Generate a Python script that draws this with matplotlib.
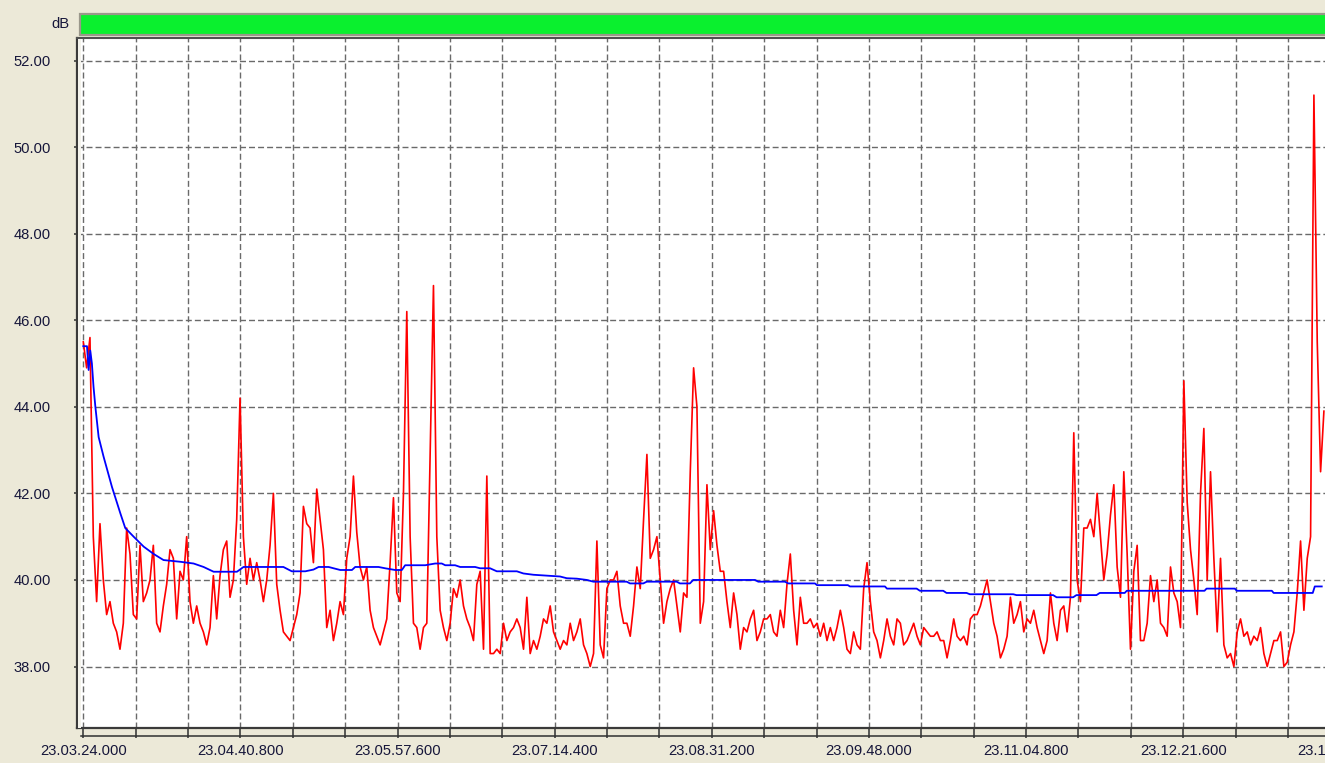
import matplotlib
matplotlib.use("Agg")
import numpy as np
from matplotlib import pyplot as plt
from matplotlib.patches import Rectangle
from matplotlib.lines import Line2D
from matplotlib.ticker import MultipleLocator, FuncFormatter

# start of the record, 23.03.24.000
start_time = 23 * 3600 + 3 * 60 + 24.0
sample_step = 1.63   # seconds between level samples

# instantaneous level, dB
level_db = [
    45.5, 44.9, 45.6, 41.0, 39.5, 41.3, 40.0, 39.2, 39.5, 39.0,
    38.8, 38.4, 39.0, 41.2, 40.6, 39.2, 39.1, 40.8, 39.5, 39.7,
    40.0, 40.8, 39.0, 38.8, 39.4, 39.9, 40.7, 40.5, 39.1, 40.2,
    40.0, 41.0, 39.5, 39.0, 39.4, 39.0, 38.8, 38.5, 38.9, 40.1,
    39.1, 40.1, 40.7, 40.9, 39.6, 40.0, 41.4, 44.2, 41.0, 39.9,
    40.5, 40.0, 40.4, 40.0, 39.5, 40.0, 40.8, 42.0, 39.9, 39.3,
    38.8, 38.7,
    38.6, 38.9, 39.2, 39.7, 41.7, 41.3, 41.2, 40.4, 42.1, 41.4,
    40.7, 38.9, 39.3, 38.6, 39.0, 39.5, 39.2, 40.5, 41.0, 42.4,
    41.1, 40.3, 40.0, 40.3, 39.3, 38.9, 38.7, 38.5, 38.8, 39.1,
    40.4, 41.9, 39.7, 39.5, 42.0, 46.2, 41.0, 39.0, 38.9, 38.4,
    38.9, 39.0, 42.9, 46.8, 41.0, 39.3, 38.9, 38.6, 39.0, 39.8,
    39.6, 40.0, 39.4, 39.1, 38.9, 38.6, 39.9, 40.2, 38.4, 42.4,
    38.3,
    38.3, 38.4, 38.3, 39.0, 38.6, 38.8, 38.9, 39.1, 38.9, 38.4,
    39.6, 38.3, 38.6, 38.4, 38.7, 39.1, 39.0, 39.4, 38.8, 38.6,
    38.4, 38.6, 38.5, 39.0, 38.6, 38.8, 39.1, 38.5, 38.3, 38.0,
    38.3, 40.9, 38.5, 38.2, 39.8, 40.0, 40.0, 40.2, 39.4, 39.0,
    39.0, 38.7, 39.4, 40.3, 39.8, 41.4, 42.9, 40.5, 40.7, 41.0,
    40.0, 39.0, 39.5, 39.8, 40.0, 39.4, 38.8, 39.7, 39.6, 42.5,
    44.9, 44.0,
    39.0, 39.5, 42.2, 40.7, 41.6, 40.8, 40.2, 40.2, 39.5, 38.9,
    39.7, 39.2, 38.4, 38.9, 38.8, 39.1, 39.3, 38.6, 38.8, 39.1,
    39.1, 39.2, 38.8, 38.7, 39.3, 38.9, 39.9, 40.6, 39.3, 38.5,
    39.6, 39.0, 39.0, 39.1, 38.9, 39.0, 38.7, 39.0, 38.6, 38.9,
    38.6, 38.9, 39.3, 38.9, 38.4, 38.3, 38.8, 38.5, 38.4, 39.8,
    40.4, 39.5, 38.8, 38.6, 38.2, 38.6, 39.1, 38.7, 38.5, 39.1,
    39.0, 38.5,
    38.6, 38.8, 39.0, 38.7, 38.5, 38.9, 38.8, 38.7, 38.7, 38.8,
    38.6, 38.6, 38.2, 38.6, 39.1, 38.7, 38.6, 38.7, 38.5, 39.1,
    39.2, 39.2, 39.4, 39.7, 40.0, 39.5, 39.0, 38.7, 38.2, 38.4,
    38.7, 39.6, 39.0, 39.2, 39.5, 38.8, 39.1, 39.0, 39.3, 38.9,
    38.6, 38.3, 38.6, 39.7, 39.0, 38.6, 39.3, 39.4, 38.8, 39.6,
    43.4, 40.0, 39.5, 41.2, 41.2, 41.4, 41.0, 42.0, 41.0, 40.0,
    40.6,
    41.5, 42.2, 40.3, 39.6, 42.5, 40.6, 38.4, 40.2, 40.8, 38.6,
    38.6, 39.0, 40.1, 39.5, 40.0, 39.0, 38.9, 38.7, 40.3, 39.7,
    39.5, 38.9, 44.6, 41.8, 40.7, 40.0, 39.2, 42.0, 43.5, 40.0,
    42.5, 40.5, 38.8, 40.5, 38.5, 38.2, 38.3, 38.0, 38.8, 39.1,
    38.7, 38.8, 38.5, 38.7, 38.6, 38.9, 38.3, 38.0, 38.3, 38.6,
    38.6, 38.8, 38.0, 38.1, 38.5, 38.8, 39.7, 40.9, 39.3, 40.5,
    41.0, 51.2, 45.5, 42.5, 43.9,
]

# running average level (time in seconds from start, dB)
avg_t = [0.0, 1.8, 2.6, 3.4, 4.2, 5.0, 5.9, 7.5, 9.9, 14.0, 18.1, 20.5,
         24.6, 29.5, 34.4, 39.2, 47.4, 53.9, 58.8, 63.7, 75.1, 78.3, 97.8,
         101.9, 108.5, 112.5, 115.0, 119.9, 122.3, 125.6, 131.3, 132.9,
         144.3, 147.5, 152.4, 155.7, 157.3, 167.1, 172.0, 175.2, 176.9,
         181.7, 184.2, 191.5, 193.9, 198.8, 202.1, 211.9, 215.1, 220.0,
         226.5, 233.0, 236.3, 241.2, 246.1, 249.3, 265.6, 267.2, 273.7,
         275.4, 290.0, 291.6, 296.5, 298.1, 328.3, 329.9, 342.9, 344.6,
         357.6, 358.6, 373.7, 374.7, 391.8, 392.8, 407.3, 408.9, 420.3,
         421.9, 431.7, 433.3, 454.5, 456.1, 474.0, 475.7, 483.8, 485.4,
         495.2, 496.8, 509.0, 510.0, 548.0, 549.0, 562.8, 563.8, 580.9,
         581.8, 600.9, 601.9, 605.3]
avg_db = [45.4, 45.4, 44.85, 45.3, 45.0, 44.46, 44.0, 43.3, 42.85, 42.15,
          41.54, 41.2, 41.0, 40.77, 40.6, 40.46, 40.42, 40.38, 40.3, 40.19,
          40.19, 40.3, 40.3,
          40.2, 40.2, 40.24, 40.3, 40.3, 40.27, 40.23, 40.23, 40.3, 40.3,
          40.27, 40.23, 40.23, 40.34, 40.34, 40.38, 40.38, 40.34, 40.34,
          40.3, 40.3, 40.27, 40.27, 40.2, 40.2, 40.15, 40.12, 40.1, 40.08,
          40.04, 40.03, 40.0, 39.96, 39.96, 39.92, 39.92, 39.96, 39.96,
          39.92, 39.92, 40.0, 40.0, 39.96, 39.96, 39.92, 39.92, 39.88,
          39.88, 39.85, 39.85, 39.8, 39.8, 39.75, 39.75, 39.7, 39.7, 39.67,
          39.67, 39.65, 39.65, 39.6, 39.6, 39.65, 39.65, 39.7, 39.7, 39.75,
          39.75, 39.8, 39.8, 39.75, 39.75, 39.7, 39.7, 39.85, 39.85]

y_ticks = [38, 40, 42, 44, 46, 48, 50, 52]
grid_step = 25.6      # seconds between vertical grid lines
label_step = 76.8     # seconds between time labels

W, H = 1325, 763
bg = "#ECE9D8"
txt_col = "#16163a"
font = "Liberation Sans"


def px(x, y):
    # pixel position -> figure fraction (y from top)
    return x / W, 1 - y / H


def time_label(t, pos):
    if abs((t / label_step) - round(t / label_step)) > 1e-6:
        return ""
    ms_total = int(round((start_time + t) * 1000))
    hh = ms_total // 3600000
    mm = (ms_total // 60000) % 60
    ss = (ms_total // 1000) % 60
    ms = ms_total % 1000
    return f"{hh:02d}.{mm:02d}.{ss:02d}.{ms:03d}"


fig = plt.figure(figsize=(W / 100, H / 100), dpi=100, facecolor=bg)

ax_left, ax_right = 77, 1420
ax_top, ax_bot = 38, 728
ax = fig.add_axes([ax_left / W, 1 - ax_bot / H,
                   (ax_right - ax_left) / W, (ax_bot - ax_top) / H])
ax.set_facecolor("white")

t = np.arange(len(level_db)) * sample_step
ax.plot(t, level_db, color="#ff0000", lw=1.2, zorder=3)
ax.plot(avg_t, avg_db, color="#0000ff", lw=1.3, zorder=4)

px_per_s = 2.046
ax.set_xlim((ax_left - 83.3) / px_per_s, (ax_right - 83.3) / px_per_s)
ax.set_ylim(36.58, 52.52)

ax.xaxis.set_major_locator(MultipleLocator(grid_step))
ax.xaxis.set_major_formatter(FuncFormatter(time_label))
ax.set_yticks(y_ticks)
ax.set_yticklabels([f"{v:.2f}" for v in y_ticks])

ax.grid(True, color="#6a6a6a", lw=1.0, linestyle=(0, (4.3, 2.2)), zorder=1)
ax.set_axisbelow(True)

for side in ["top", "bottom", "left"]:
    ax.spines[side].set_color("#3a3a3a")
ax.spines["left"].set_linewidth(1.6)
ax.spines["bottom"].set_linewidth(1.6)
ax.spines["top"].set_linewidth(1.5)
ax.spines["top"].set_color("#505050")
ax.spines["right"].set_visible(False)

ax.tick_params(axis="x", direction="out", length=7.2, width=1.1,
               color="#303030", pad=4.5, labelsize=10.6, labelcolor=txt_col)
ax.tick_params(axis="y", direction="inout", length=5, width=1.1,
               color="#303030", pad=16.5, labelsize=10.6, labelcolor=txt_col)
for lab in ax.get_xticklabels() + ax.get_yticklabels():
    lab.set_fontfamily(font)

# thin light strip between the axis line and the white plot area
sx, sy = px(78, 728)
fig.add_artist(Rectangle((sx, sy), 3 / W, 689 / H, facecolor="#f4f3ec",
                         edgecolor="none"))

# ruler line under the plot
x0, y0 = px(81, 735.7)
x1, _ = px(W, 735.7)
fig.add_artist(Line2D([x0, x1], [y0, y0], color="#303030", lw=1.1))

# green status bar on top
gx, gy = px(80, 35)
fig.add_artist(Rectangle((gx, gy), (W - 80) / W + 0.01, 21 / H,
                         facecolor="#0AF02E", edgecolor="#9a978a", lw=1.6))

lx, ly = px(69, 24)
fig.text(lx, ly, "dB", ha="right", va="center", fontsize=10.6,
         color=txt_col, fontfamily=font)

fig.savefig("out.png", dpi=100, facecolor=bg)
